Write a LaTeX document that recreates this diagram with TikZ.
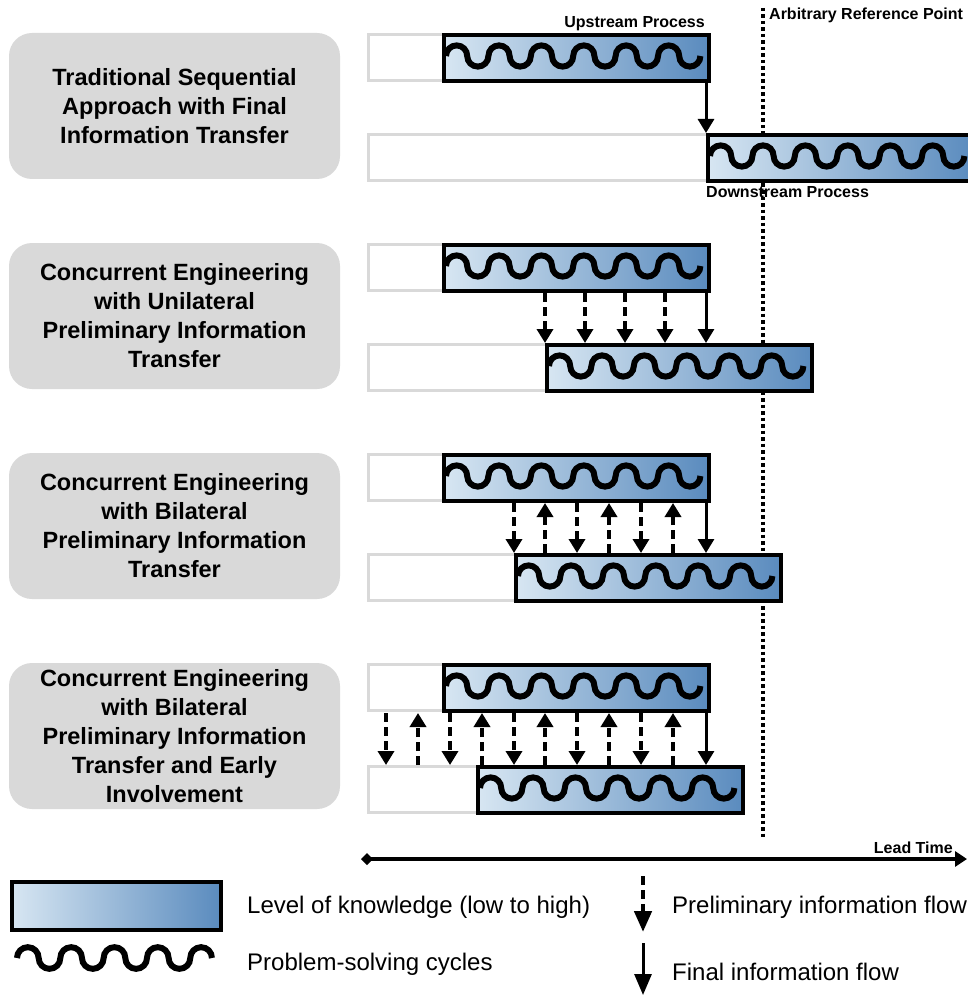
\documentclass[tikz,border=0pt]{standalone}
\usepackage{fontspec}
\setmainfont{Liberation Sans}
\usetikzlibrary{arrows.meta}

\definecolor{panelgray}{HTML}{D9D9D9}
\definecolor{knowlow}{HTML}{D7E6F2}
\definecolor{knowhigh}{HTML}{5A8BBE}

\tikzset{
  panel/.style={fill=panelgray, rounded corners=23pt, minimum width=331pt,
    minimum height=146pt, inner sep=0pt, align=center,
    font=\fontsize{23.5}{29}\selectfont\bfseries},
  slot/.style={draw=panelgray, line width=3pt, fill=white, minimum height=46pt,
    inner sep=0pt, anchor=north west},
  kbox/.style={draw=black, line width=4pt, left color=knowlow, right color=knowhigh,
    minimum height=46pt, minimum width=265pt, inner sep=0pt, anchor=north west},
  cycles/.style={line width=6pt},
  prelim/.style={line width=4.5pt, dash pattern=on 9pt off 5pt,
    -{Triangle[width=16pt,length=14pt]}},
  final/.style={line width=3pt, -{Triangle[width=16pt,length=14pt]}},
  refline/.style={line width=3.5pt, dash pattern=on 3.5pt off 3pt},
  timeaxis/.style={line width=4pt,
    {Turned Square[width=12pt,length=12pt]}-{Triangle[width=15pt,length=12pt]}},
  tag/.style={inner sep=0pt, font=\fontsize{16}{19}\selectfont\bfseries},
  legendtext/.style={inner sep=0pt, font=\fontsize{24}{28}\selectfont},
}

% chain of semicircles: start x, mid y, radius, number of full periods
\newcommand\cyclewave[4]{%
  \draw[cycles] (#1,#2) \foreach \k in {1,...,#4}{
    arc[start angle=180,end angle=360,radius=#3]
    arc[start angle=180,end angle=0,radius=#3]};}

% knowledge bar with its problem-solving cycles: name, left x, top y
\newcommand\kstage[3]{%
  \node[kbox] (#1) at (#2,#3) {};
  \cyclewave{#2+4}{#3+23}{10.6}{6}}

\begin{document}
\begin{tikzpicture}[x=1pt,y=-1pt]
\useasboundingbox (0,0) rectangle (967,995);

% reference point line
\coordinate (refTop) at (763,8);
\coordinate (refBot) at (763,838);
\draw[refline] (refTop) -- (refBot);

% approach panels
\node[panel] (p1) at (174.5,106) {Traditional Sequential\\Approach with Final\\Information Transfer};
\node[panel] (p2) at (174.5,316) {Concurrent Engineering\\with Unilateral\\Preliminary Information\\Transfer};
\node[panel] (p3) at (174.5,526) {Concurrent Engineering\\with Bilateral\\Preliminary Information\\Transfer};
\node[panel] (p4) at (174.5,736) {Concurrent Engineering\\with Bilateral\\Preliminary Information\\Transfer and Early\\Involvement};

% empty time slots
\node[slot, minimum width=85pt]  (s1u) at (367,33) {};
\node[slot, minimum width=349pt] (s1d) at (367,133) {};
\node[slot, minimum width=85pt]  (s2u) at (367,243) {};
\node[slot, minimum width=188pt] (s2d) at (367,343) {};
\node[slot, minimum width=85pt]  (s3u) at (367,453) {};
\node[slot, minimum width=157pt] (s3d) at (367,553) {};
\node[slot, minimum width=85pt]  (s4u) at (367,663) {};
\node[slot, minimum width=119pt] (s4d) at (367,765) {};

% upstream and downstream processes
\kstage{up1}{442}{33}
\kstage{down1}{706}{133}
\kstage{up2}{442}{243}
\kstage{down2}{545}{343}
\kstage{up3}{442}{453}
\kstage{down3}{514}{553}
\kstage{up4}{442}{663}
\kstage{down4}{476}{765}

% information flows
\draw[final] (706,0 |- up1.south) -- (706,0 |- down1.north);

\foreach \x in {545,585,625,665}
  \draw[prelim] (\x,0 |- up2.south) -- (\x,0 |- down2.north);
\draw[final] (706,0 |- up2.south) -- (706,0 |- down2.north);

\foreach \x in {514,577,641}
  \draw[prelim] (\x,0 |- up3.south) -- (\x,0 |- down3.north);
\foreach \x in {545,609,673}
  \draw[prelim] (\x,0 |- down3.north) -- (\x,0 |- up3.south);
\draw[final] (706,0 |- up3.south) -- (706,0 |- down3.north);

\foreach \x in {386,450,514,577,641}
  \draw[prelim] (\x,0 |- up4.south) -- (\x,0 |- down4.north);
\foreach \x in {418,482,545,609,673}
  \draw[prelim] (\x,0 |- down4.north) -- (\x,0 |- up4.south);
\draw[final] (706,0 |- up4.south) -- (706,0 |- down4.north);

% process labels
\node[tag, anchor=base east] (upl) at (705,28) {Upstream Process};
\node[tag, anchor=base west] (dnl) at (706,197) {Downstream Process};
\node[tag, anchor=base west] (refl) at (769,20) {Arbitrary Reference Point};

% lead time axis
\coordinate (t0) at (361,859);
\coordinate (t1) at (967,859);
\draw[timeaxis] (t0) -- (t1);
\node[tag, anchor=base east] (ltl) at (953,853) {Lead Time};

% legend
\node[kbox, minimum width=209pt, minimum height=48pt] (lgbox) at (10,880) {};
\draw[cycles] (17,958) \foreach \k in {1,...,4}{
    arc[start angle=180,end angle=360,radius=10.83]
    arc[start angle=180,end angle=0,radius=10.83]}
  arc[start angle=180,end angle=360,radius=10.83];
\node[legendtext, anchor=base west] (lgk) at (247,913) {Level of knowledge (low to high)};
\node[legendtext, anchor=base west] (lgc) at (247,970) {Problem-solving cycles};

\coordinate (pa) at (643,876);
\coordinate (pb) at (643,932);
\draw[prelim, -{Triangle[width=17pt,length=21pt]}] (pa) -- (pb);
\coordinate (fa) at (643,943);
\coordinate (fb) at (643,995);
\draw[final, -{Triangle[width=17pt,length=21pt]}] (fa) -- (fb);
\node[legendtext, anchor=base west] (lgp) at (672,913) {Preliminary information flow};
\node[legendtext, anchor=base west] (lgf) at (672,980) {Final information flow};
\end{tikzpicture}
\end{document}
